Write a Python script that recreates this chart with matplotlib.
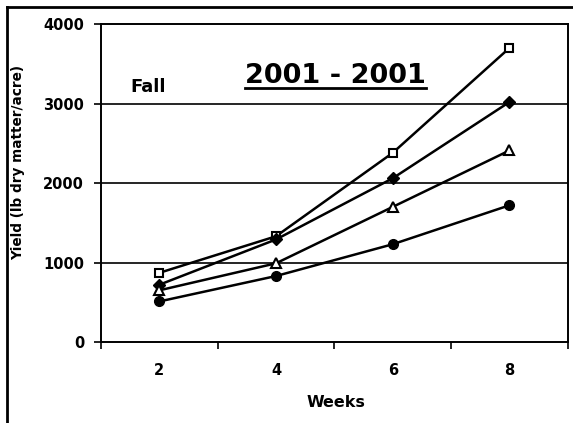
import numpy as np
import matplotlib
matplotlib.use("Agg")
import matplotlib.pyplot as plt
from matplotlib.lines import Line2D

weeks = [2, 4, 6, 8]
open_square = [870, 1330, 2380, 3700]
filled_diamond = [720, 1290, 2060, 3020]
open_triangle = [650, 990, 1700, 2410]
filled_circle = [510, 830, 1230, 1720]
yticks = [0, 1000, 2000, 3000, 4000]

plt.rcParams['font.family'] = ['DejaVu Sans']
plt.rcParams['font.weight'] = 'bold'

fig = plt.figure(figsize=(5.73, 4.23), dpi=100)
ax = fig.add_axes([0.176, 0.1915, 0.815, 0.7515])

ax.plot(weeks, open_square, color='black', lw=1.8, marker='s', ms=6,
        mfc='white', mec='black', mew=1.5)
ax.plot(weeks, filled_diamond, color='black', lw=1.8, marker='D', ms=6,
        mfc='black', mec='black')
ax.plot(weeks, open_triangle, color='black', lw=1.8, marker='^', ms=7,
        mfc='white', mec='black', mew=1.5)
ax.plot(weeks, filled_circle, color='black', lw=1.8, marker='o', ms=7,
        mfc='black', mec='black')

ax.set_xlim(1, 9)
ax.set_ylim(0, 4000)
ax.set_yticks(yticks)
ax.set_yticklabels([str(v) for v in yticks], fontsize=10.5, fontweight='bold')
ax.set_xticks([1, 3, 5, 7, 9])
ax.set_xticklabels([])
ax.set_xticks(weeks, minor=True)
ax.set_xticklabels([str(w) for w in weeks], minor=True, fontsize=10.5, fontweight='bold')
ax.tick_params(axis='x', which='minor', length=0, pad=15)
ax.tick_params(axis='x', which='major', direction='out', length=5, width=1.2)
ax.tick_params(axis='y', direction='out', length=5, width=1.2, pad=7)

for v in yticks[1:-1]:
    ax.axhline(v, color='black', lw=1.2, zorder=0)
for s in ax.spines.values():
    s.set_linewidth(1.4)

ax.set_ylabel("Yield (lb dry matter/acre)", fontsize=9.8, fontweight='bold')
ax.yaxis.set_label_coords(-0.163, 0.566)
ax.set_xlabel("Weeks", fontsize=11.5, fontweight='bold')
ax.xaxis.set_label_coords(0.503, -0.167)

ax.text(0.063, 0.803, "Fall", transform=ax.transAxes, fontsize=13, fontweight='bold',
        va='center', ha='left')
title = ax.text(0.503, 0.847, "2001 - 2001", transform=ax.transAxes, fontsize=19.5,
                fontweight='bold', va='center_baseline', ha='center')

# underline under the title
fig.canvas.draw()
bb = title.get_window_extent().transformed(fig.transFigure.inverted())
y_ul = 1 - 88 / 423
fig.add_artist(Line2D([bb.x0, bb.x1], [y_ul, y_ul],
                      transform=fig.transFigure, color='black', lw=2))

# outer frame (top and left)
fig.add_artist(Line2D([0.013, 1.0], [0.983, 0.983], transform=fig.transFigure,
                      color='black', lw=2))
fig.add_artist(Line2D([0.013, 0.013], [0.0, 0.983], transform=fig.transFigure,
                      color='black', lw=2))

fig.savefig("out.png", dpi=100)
